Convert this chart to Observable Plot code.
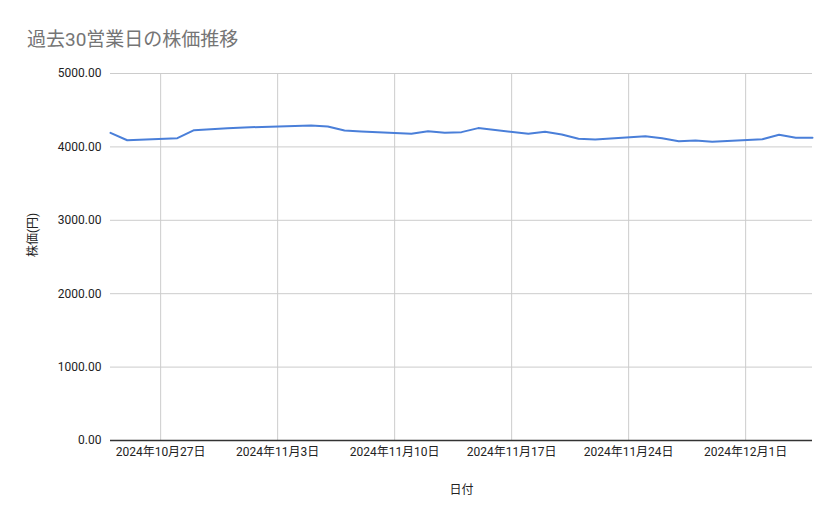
<!DOCTYPE html>
<html>
<head>
<meta charset="utf-8">
<script src="https://cdn.jsdelivr.net/npm/d3@7"></script>
<script src="https://cdn.jsdelivr.net/npm/@observablehq/plot@0.6"></script>
<style>
  body { margin: 0; background: #fff; }
  #title { height: 60px; box-sizing: border-box; padding: 28px 0 0 27px; font-family: Roboto, "Noto Sans CJK JP", sans-serif; font-size: 19px; color: #757575; line-height: 24px; }
  svg { display: block; }
</style>
</head>
<body>
<div id="title">過去30営業日の株価推移</div>
<div id="chart"></div>
<script>
const dates = ["2024-10-24","2024-10-25","2024-10-28","2024-10-29","2024-10-30","2024-10-31","2024-11-01",
  "2024-11-05","2024-11-06","2024-11-07","2024-11-08","2024-11-11","2024-11-12","2024-11-13","2024-11-14","2024-11-15",
  "2024-11-18","2024-11-19","2024-11-20","2024-11-21","2024-11-22","2024-11-25","2024-11-26","2024-11-27","2024-11-28","2024-11-29",
  "2024-12-02","2024-12-03","2024-12-04","2024-12-05"];
const prices = [4192,4091,4119,4228,4242,4255,4265,
  4292,4278,4223,4210,4178,4214,4192,4201,4256,
  4178,4205,4169,4110,4101,4146,4119,4078,4087,4069,
  4105,4165,4124,4124];
const xTicks = ["2024-10-27","2024-11-03","2024-11-10","2024-11-17","2024-11-24","2024-12-01"];
const yTicks = [0,1000,2000,3000,4000,5000];

const data = dates.map((d,i) => ({date: new Date(d), price: prices[i]}));
const fmtDate = d => `${d.getUTCFullYear()}年${d.getUTCMonth()+1}月${d.getUTCDate()}日`;

const chart = Plot.plot({
  width: 839,
  height: 459,
  marginTop: 13,
  marginBottom: 79,
  marginLeft: 110,
  marginRight: 27,
  style: {fontFamily: 'Roboto, "Noto Sans CJK JP", sans-serif', fontSize: "12px", color: "#222"},
  x: {type: "utc", domain: [new Date(dates[0]), new Date(dates[dates.length-1])]},
  y: {domain: [0, 5000]},
  marks: [
    Plot.gridY(yTicks, {stroke: "#cccccc", strokeOpacity: 1}),
    Plot.gridX(xTicks.map(d => new Date(d)), {stroke: "#cccccc", strokeOpacity: 1}),
    Plot.axisY(yTicks, {tickSize: 0, tickPadding: 9, tickFormat: d3.format(".2f"), label: null, fontSize: 12}),
    Plot.axisX(xTicks.map(d => new Date(d)), {tickSize: 0, tickPadding: 7, tickFormat: fmtDate, label: null, fontSize: 12}),
    Plot.ruleY([0], {stroke: "#333", strokeWidth: 1.3}),
    Plot.line(data, {x: "date", y: "price", stroke: "#4a7fd9", strokeWidth: 2}),
    Plot.text(["日付"], {frameAnchor: "bottom", dy: 53, fontSize: 12, fill: "#222"}),
    Plot.text(["株価(円)"], {frameAnchor: "left", dx: -77, rotate: -90, fontSize: 12, fill: "#222"})
  ]
});
document.getElementById("chart").appendChild(chart);
</script>
</body>
</html>
